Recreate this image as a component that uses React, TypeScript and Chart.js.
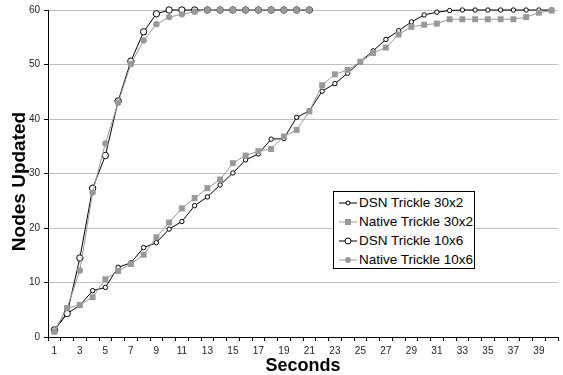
import React, { useEffect, useRef } from "react";
import { Chart, registerables } from "chart.js";

Chart.register(...registerables);

const seconds = [
  "1", "2", "3", "4", "5", "6", "7", "8", "9", "10",
  "11", "12", "13", "14", "15", "16", "17", "18", "19", "20",
  "21", "22", "23", "24", "25", "26", "27", "28", "29", "30",
  "31", "32", "33", "34", "35", "36", "37", "38", "39", "40",
];

const dsnTrickle30x2 = [
  1.3, 4.3, 5.8, 8.5, 9.1, 12.8, 13.6, 16.4, 17.3, 19.8,
  21.2, 24.1, 25.7, 27.9, 30.1, 32.5, 33.6, 36.3, 36.4, 40.3,
  41.5, 45.1, 46.5, 48.4, 50.5, 52.5, 54.6, 56.2, 57.8, 59.1,
  59.6, 59.9, 60, 60, 60, 60, 60, 60, 60, 60,
];

const nativeTrickle30x2 = [
  1.0, 5.3, 5.9, 7.3, 10.6, 12.1, 13.4, 15.1, 18.3, 21.0,
  23.6, 25.5, 27.3, 28.9, 31.9, 33.3, 34.1, 34.5, 36.8, 38.0,
  41.4, 46.2, 48.2, 49.0, 50.5, 52.1, 53.1, 55.5, 56.9, 57.3,
  57.5, 58.3, 58.3, 58.3, 58.3, 58.3, 58.3, 58.7, 59.5, 59.9,
];

const dsnTrickle10x6 = [
  1.3, 4.3, 14.5, 27.3, 33.3, 43.3, 50.6, 56.0, 59.3, 60,
  60, 60, 60, 60, 60, 60, 60, 60, 60, 60,
  60,
];

const nativeTrickle10x6 = [
  1.0, 5.3, 12.2, 26.5, 35.5, 43.0, 50.1, 54.4, 57.4, 58.7,
  59.2, 59.7, 60, 60, 60, 60, 60, 60, 60, 60,
  60,
];

const yTicks = [0, 10, 20, 30, 40, 50, 60];

const xTitle = "Seconds";
const yTitle = "Nodes Updated";

const GRAY = "#999999";
const FONT = "'Liberation Sans', Arial, sans-serif";

const legendItems = [
  { label: "DSN Trickle 30x2", color: "#000000", marker: "smallCircle" },
  { label: "Native Trickle 30x2", color: GRAY, marker: "square" },
  { label: "DSN Trickle 10x6", color: "#000000", marker: "circle" },
  { label: "Native Trickle 10x6", color: GRAY, marker: "dot" },
];

// Draws the y-axis title, centred slightly below the plot centre as in the reference.
const yTitlePlugin = {
  id: "yTitlePlugin",
  afterDraw(chart: any) {
    const ctx = chart.ctx;
    const area = chart.chartArea;
    ctx.save();
    ctx.translate(19.5, (area.top + area.bottom) / 2 + 8);
    ctx.rotate(-Math.PI / 2);
    ctx.font = `bold 19px ${FONT}`;
    ctx.fillStyle = "#000000";
    ctx.textAlign = "center";
    ctx.textBaseline = "middle";
    ctx.fillText(yTitle, 0, 0);
    ctx.restore();
  },
};

function Marker({ color, marker }: { color: string; marker: string }) {
  let shape: React.ReactNode = null;
  if (marker === "smallCircle") {
    shape = <circle cx={9} cy={5} r={2} fill="#fff" stroke={color} strokeWidth={1} />;
  } else if (marker === "circle") {
    shape = <circle cx={9} cy={5} r={3} fill="#fff" stroke={color} strokeWidth={1} />;
  } else if (marker === "square") {
    shape = <rect x={6} y={2} width={6} height={6} fill={color} />;
  } else {
    shape = <circle cx={9} cy={5} r={3} fill={color} />;
  }
  return (
    <svg width={18} height={10} style={{ display: "block" }}>
      <line x1={0} y1={5} x2={18} y2={5} stroke={color} strokeWidth={1} />
      {shape}
    </svg>
  );
}

export default function App() {
  const canvasRef = useRef<HTMLCanvasElement | null>(null);

  useEffect(() => {
    const canvas = canvasRef.current;
    if (!canvas) return;
    const chart = new Chart(canvas, {
      type: "line",
      data: {
        labels: seconds,
        datasets: [
          {
            label: "DSN Trickle 30x2",
            data: dsnTrickle30x2,
            borderColor: "#000000",
            borderWidth: 1,
            pointStyle: "circle",
            pointRadius: 2.2,
            pointBackgroundColor: "#ffffff",
            pointBorderColor: "#000000",
            pointBorderWidth: 1,
            order: 4,
          },
          {
            label: "Native Trickle 30x2",
            data: nativeTrickle30x2,
            borderColor: GRAY,
            borderWidth: 1,
            pointStyle: "rect",
            pointRadius: 4.2,
            pointBackgroundColor: GRAY,
            pointBorderColor: GRAY,
            pointBorderWidth: 0,
            order: 3,
          },
          {
            label: "DSN Trickle 10x6",
            data: dsnTrickle10x6,
            borderColor: "#000000",
            borderWidth: 1,
            pointStyle: "circle",
            pointRadius: 3.2,
            pointBackgroundColor: "#ffffff",
            pointBorderColor: "#000000",
            pointBorderWidth: 1,
            order: 2,
          },
          {
            label: "Native Trickle 10x6",
            data: nativeTrickle10x6,
            borderColor: GRAY,
            borderWidth: 1,
            pointStyle: "circle",
            pointRadius: 3.2,
            pointBackgroundColor: GRAY,
            pointBorderColor: GRAY,
            pointBorderWidth: 0,
            order: 1,
          },
        ],
      },
      options: {
        animation: false,
        responsive: false,
        devicePixelRatio: 1,
        layout: { padding: { top: 7, right: 0, left: 0, bottom: 0 } },
        plugins: { legend: { display: false }, tooltip: { enabled: false } },
        elements: { line: { tension: 0 } },
        datasets: { line: { clip: false } } as any,
        scales: {
          x: {
            type: "category",
            offset: true,
            grid: {
              display: true,
              drawOnChartArea: false,
              drawTicks: true,
              tickLength: 4,
              tickColor: "#000000",
              offset: true,
            },
            border: { display: true, color: "#000000", width: 1 },
            ticks: {
              autoSkip: false,
              maxRotation: 0,
              minRotation: 0,
              padding: 4,
              color: "#222222",
              font: { family: FONT, size: 10 },
              callback: (_v: any, i: number) => (i % 2 === 0 ? seconds[i] : ""),
            },
            title: {
              display: true,
              text: xTitle,
              color: "#000000",
              font: { family: FONT, size: 18, weight: "bold", lineHeight: 1 },
              padding: { top: 0, bottom: 0 },
            },
            afterFit: (scale: any) => {
              scale.height = 38;
            },
          },
          y: {
            min: 0,
            max: 60,
            afterBuildTicks: (scale: any) => {
              scale.ticks = yTicks.map((v) => ({ value: v }));
            },
            grid: {
              color: "#c0c0c0",
              lineWidth: 1,
              drawTicks: true,
              tickLength: 4,
              tickColor: "#000000",
            },
            border: { display: true, color: "#000000", width: 1 },
            ticks: {
              padding: 4,
              color: "#222222",
              font: { family: FONT, size: 10 },
            },
            title: { display: false },
            afterFit: (scale: any) => {
              scale.width = 48;
            },
          },
        },
      } as any,
      plugins: [yTitlePlugin],
    });
    return () => chart.destroy();
  }, []);

  return (
    <div style={{ position: "absolute", left: 0, top: 0, width: 563, height: 375, background: "#fff" }}>
      <canvas ref={canvasRef} width={563} height={375} style={{ display: "block" }} />
      <div
        style={{
          position: "absolute",
          left: 333,
          top: 191,
          width: 140,
          height: 75,
          border: "1px solid #000",
          background: "#fff",
          boxSizing: "content-box",
          paddingTop: 1,
        }}
      >
        {legendItems.map((it) => (
          <div
            key={it.label}
            style={{
              display: "flex",
              alignItems: "center",
              height: 19,
              paddingLeft: 5,
              fontFamily: FONT,
              fontSize: 13.5,
              color: "#000",
              whiteSpace: "nowrap",
            }}
          >
            <Marker color={it.color} marker={it.marker} />
            <span style={{ marginLeft: 2 }}>{it.label}</span>
          </div>
        ))}
      </div>
    </div>
  );
}
